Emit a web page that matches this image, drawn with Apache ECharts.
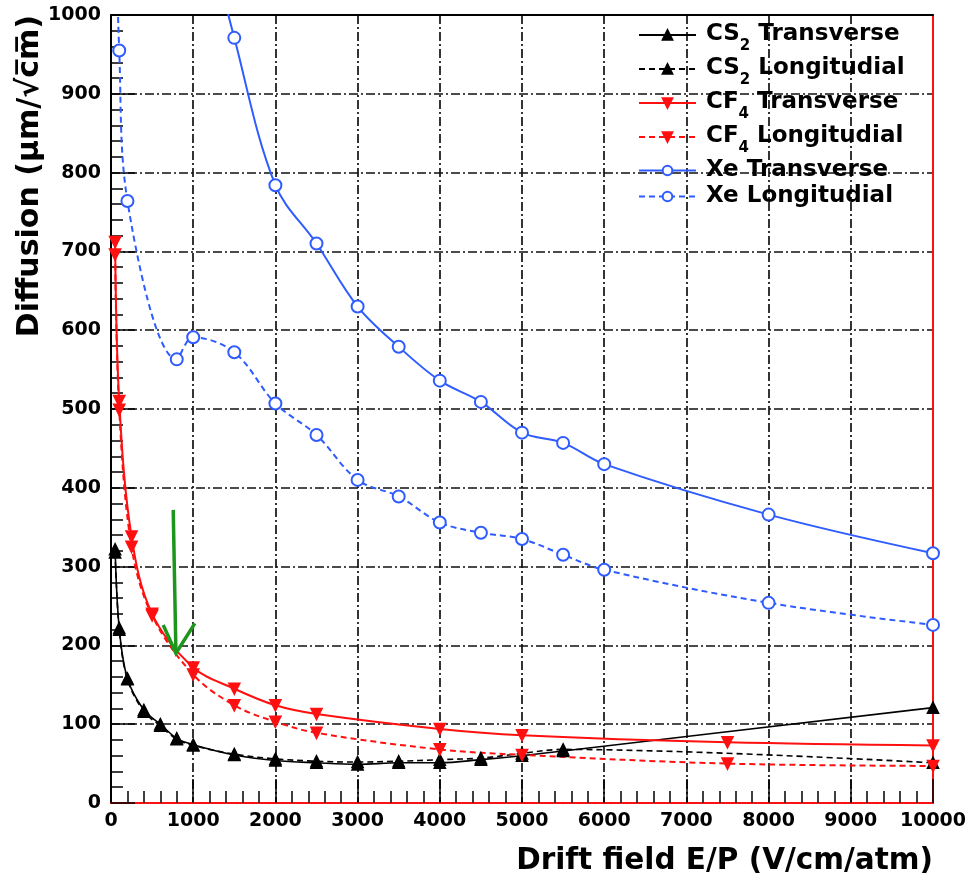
<!DOCTYPE html>
<html>
<head>
<meta charset="utf-8">
<script src="https://cdn.jsdelivr.net/npm/echarts@6/dist/echarts.min.js"></script>
<style>
  html, body { margin: 0; padding: 0; background: #fff; }
  #chart { width: 975px; height: 886px; }
</style>
</head>
<body>
<div id="chart"></div>
<script>
// Drift field E/P (V/cm/atm) and diffusion (um/sqrt(cm)) for each gas
const cs2Field = [50, 100, 200, 400, 600, 800, 1000, 1500, 2000, 2500, 3000, 3500, 4000, 4500, 5000, 5500, 10000];
const cs2Transverse = [322, 222, 158, 118, 100, 82, 74, 61, 54, 51, 49, 51, 51, 55, 60, 66, 121];
const cs2Longitudinal = [318, 220, 157, 116, 98, 81, 73, 62, 56, 53, 52, 53, 55, 57, 63, 68, 51];

const cf4Field = [50, 100, 250, 500, 1000, 1500, 2000, 2500, 4000, 5000, 7500, 10000];
const cf4Transverse = [712, 510, 338, 240, 172, 145, 124, 113, 94, 86, 77, 73];
const cf4Longitudinal = [696, 499, 325, 238, 163, 124, 103, 89, 68, 61, 50, 47];

const xeTransField = [1000, 1500, 2000, 2500, 3000, 3500, 4000, 4500, 5000, 5500, 6000, 8000, 10000];
const xeTransverse = [1180, 971, 784, 710, 630, 579, 536, 509, 470, 457, 430, 366, 317];
const xeLongField = [50, 100, 200, 800, 1000, 1500, 2000, 2500, 3000, 3500, 4000, 4500, 5000, 5500, 6000, 8000, 10000];
const xeLongitudinal = [1150, 955, 764, 563, 591, 572, 507, 467, 410, 389, 356, 343, 335, 315, 296, 254, 226];

// Annotation arrow pointing at the CF4 curves (in data units)
const arrowShaft = [[757, 372], [790, 190]];
const arrowHead = [[635, 226], [790, 190], [1020, 228]];

const seriesNames = ['CS2 Transverse', 'CS2 Longitudial', 'CF4 Transverse', 'CF4 Longitudial', 'Xe Transverse', 'Xe Longitudial'];
const xTicks = { min: 0, max: 10000, interval: 1000 };
const yTicks = { min: 0, max: 1000, interval: 100 };

const FONT = 'DejaVu Sans';
const BLUE = '#2f5cff';
const RED = '#ff1010';
const BLACK = '#000000';

const pairs = (xs, ys) => xs.map((x, i) => [x, ys[i]]);
const plain = v => String(v);

function curve(name, xs, ys, color, dashed, symbol, opts) {
  return Object.assign({
    name: name,
    type: 'line',
    data: pairs(xs, ys),
    smooth: 0.35,
    symbol: symbol,
    symbolSize: 11,
    showAllSymbol: true,
    lineStyle: { color: color, width: 2, type: dashed ? [6, 4] : 'solid' },
    itemStyle: { color: color, borderColor: color, borderWidth: 1.6 },
    emphasis: { disabled: true },
    clip: true,
    z: 3
  }, opts || {});
}

const chart = echarts.init(document.getElementById('chart'), null, { renderer: 'canvas' });

const gridDash = { color: '#111', width: 1.7, type: [9, 3, 2, 3] };

const option = {
  animation: false,
  backgroundColor: '#fff',
  grid: { left: 111, right: 42, top: 15, bottom: 83, containLabel: false },
  legend: {
    data: seriesNames,
    orient: 'vertical',
    left: 633,
    top: 18,
    itemWidth: 57,
    itemHeight: 12,
    itemGap: 3,
    selectedMode: false,
    backgroundColor: 'transparent',
    formatter: function (name) {
      const m = name.match(/^(CS|CF)(\d) (.*)$/);
      if (m) return '{t|' + m[1] + '}{s|' + m[2] + '}{t| ' + m[3] + '}';
      return '{x|' + name + '}';
    },
    textStyle: {
      padding: [0, 0, 0, 5],
      rich: {
        t: { fontFamily: FONT, fontWeight: 'bold', fontSize: 23, color: '#000', lineHeight: 24, verticalAlign: 'top' },
        s: { fontFamily: FONT, fontWeight: 'bold', fontSize: 15, color: '#000', lineHeight: 14, padding: [16, 0, 0, 0], verticalAlign: 'top' },
        x: { fontFamily: FONT, fontWeight: 'bold', fontSize: 23, color: '#000', lineHeight: 30 }
      }
    }
  },
  xAxis: [
    {
      type: 'value', position: 'bottom', min: xTicks.min, max: xTicks.max, interval: xTicks.interval,
      axisLine: { show: true, onZero: false, lineStyle: { color: RED, width: 2 } },
      axisTick: { show: true, inside: true, length: 24, lineStyle: { color: '#000', width: 1.5 } },
      minorTick: { show: true, splitNumber: 5, length: 12, lineStyle: { color: '#000', width: 1.5 } },
      axisLabel: { fontFamily: FONT, fontWeight: 'bold', fontSize: 19, color: '#000', margin: 9, formatter: plain },
      splitLine: { show: true, lineStyle: gridDash }
    },
    {
      type: 'value', position: 'top', min: xTicks.min, max: xTicks.max, interval: xTicks.interval,
      axisLine: { show: true, onZero: false, lineStyle: { color: '#000', width: 2 } },
      axisTick: { show: false }, axisLabel: { show: false }, splitLine: { show: false }
    }
  ],
  yAxis: [
    {
      type: 'value', position: 'left', min: yTicks.min, max: yTicks.max, interval: yTicks.interval,
      axisLine: { show: true, onZero: false, lineStyle: { color: '#000', width: 2 } },
      axisTick: { show: true, inside: true, length: 24, lineStyle: { color: '#000', width: 1.5 } },
      minorTick: { show: true, splitNumber: 5, length: 12, lineStyle: { color: '#000', width: 1.5 } },
      axisLabel: { fontFamily: FONT, fontWeight: 'bold', fontSize: 19, color: '#000', margin: 10, formatter: plain },
      splitLine: { show: true, lineStyle: gridDash }
    },
    {
      type: 'value', position: 'right', min: yTicks.min, max: yTicks.max, interval: yTicks.interval,
      axisLine: { show: true, onZero: false, lineStyle: { color: RED, width: 2 } },
      axisTick: { show: false }, axisLabel: { show: false }, splitLine: { show: false }
    }
  ],
  series: [
    curve(seriesNames[0], cs2Field, cs2Transverse, BLACK, false, 'triangle', { lineStyle: { color: BLACK, width: 1.6, type: 'solid' } }),
    curve(seriesNames[1], cs2Field, cs2Longitudinal, BLACK, true, 'triangle', { lineStyle: { color: BLACK, width: 1.6, type: [6, 4] } }),
    curve(seriesNames[2], cf4Field, cf4Transverse, RED, false, 'triangle', { symbolRotate: 180 }),
    curve(seriesNames[3], cf4Field, cf4Longitudinal, RED, true, 'triangle', { symbolRotate: 180 }),
    curve(seriesNames[4], xeTransField, xeTransverse, BLUE, false, 'emptyCircle', { symbolSize: 12 }),
    curve(seriesNames[5], xeLongField, xeLongitudinal, BLUE, true, 'emptyCircle', { symbolSize: 12 }),
    {
      name: 'arrow-shaft', type: 'line', data: arrowShaft, symbol: 'none', silent: true,
      lineStyle: { color: '#1c961c', width: 3.5 }, z: 5
    },
    {
      name: 'arrow-head', type: 'line', data: arrowHead, symbol: 'none', silent: true,
      lineStyle: { color: '#1c961c', width: 3.5, join: 'miter' }, z: 5
    }
  ],
  graphic: [
    {
      type: 'text', x: 30, y: 15, rotation: Math.PI / 2,
      style: {
        text: 'Diffusion (\u03bcm/\u221ac\u0305m\u0305)',
        fontFamily: FONT, fontWeight: 'bold', fontSize: 30, fill: '#000',
        textAlign: 'right', textVerticalAlign: 'middle'
      }
    },
    {
      type: 'text', x: 933, y: 861,
      style: {
        text: 'Drift field E/P (V/cm/atm)',
        fontFamily: FONT, fontWeight: 'bold', fontSize: 29.5, fill: '#000',
        textAlign: 'right', textVerticalAlign: 'middle'
      }
    }
  ]
};

chart.setOption(option);
</script>
</body>
</html>
